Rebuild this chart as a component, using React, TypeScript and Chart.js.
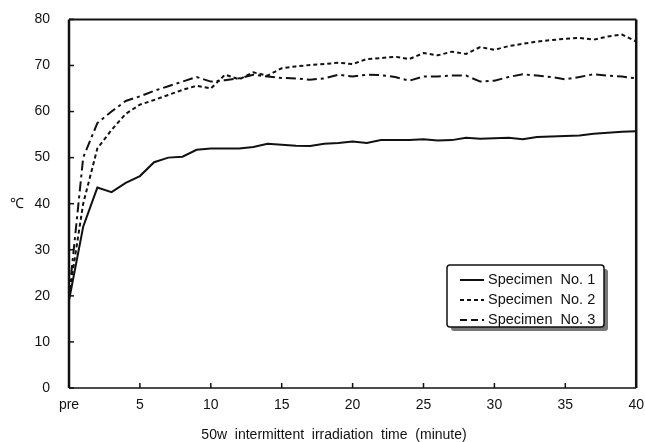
import React, { useEffect, useRef } from "react";
import { Chart, registerables } from "chart.js";

Chart.register(...registerables);

const minutes = [0, 1, 2, 3, 4, 5, 6, 7, 8, 9, 10, 11, 12, 13, 14, 15, 16, 17, 18, 19, 20, 21, 22, 23, 24, 25, 26, 27, 28, 29, 30, 31, 32, 33, 34, 35, 36, 37, 38, 39, 40];

const specimen1 = [19, 35, 43.5, 42.5, 44.5, 46, 49, 50, 50.2, 51.7, 52, 52, 52, 52.3, 53, 52.8, 52.6, 52.5, 53, 53.2, 53.5, 53.2, 53.8, 53.8, 53.8, 54, 53.7, 53.8, 54.3, 54.1, 54.2, 54.3, 54, 54.5, 54.6, 54.7, 54.8, 55.2, 55.4, 55.6, 55.7];

const specimen2 = [20, 40, 52, 56, 59.5, 61.5, 62.5, 63.6, 64.7, 65.6, 65, 68, 67, 68.5, 67.8, 69.4, 69.8, 70.1, 70.3, 70.6, 70.3, 71.4, 71.6, 71.9, 71.4, 72.7, 72.2, 73, 72.5, 74, 73.4, 74.2, 74.7, 75.2, 75.5, 75.8, 76, 75.6, 76.3, 76.7, 75.2];

const specimen3 = [20, 50, 57.5, 60, 62.3, 63.3, 64.5, 65.5, 66.5, 67.5, 66.5, 66.8, 67.2, 68, 67.6, 67.3, 67.2, 66.9, 67.2, 68, 67.6, 68, 67.9, 67.5, 66.7, 67.6, 67.6, 67.8, 67.8, 66.5, 66.7, 67.5, 68.1, 67.8, 67.5, 67, 67.5, 68.1, 67.8, 67.6, 67.2];

const seriesNames = ["Specimen  No. 1", "Specimen  No. 2", "Specimen  No. 3"];
const xTitle = "50w  intermittent  irradiation  time  (minute)";
const yTitle = "℃";

const INK = "#111";
const FONT = "'Liberation Sans', Arial, sans-serif";
const dashes = [[], [4, 3], [10, 4, 3, 4]];
const legendDashes = [[], [4, 3], [7, 4]];

const decorPlugin = {
  id: "decor",
  afterDraw(chart: any) {
    const { ctx, chartArea } = chart;
    const { left, right, top, bottom } = chartArea;
    const xs = chart.scales.x;
    const ys = chart.scales.y;
    ctx.save();
    ctx.strokeStyle = INK;
    ctx.setLineDash([]);
    // frame
    ctx.lineWidth = 2.5;
    ctx.beginPath();
    ctx.moveTo(left, bottom);
    ctx.lineTo(left, top);
    ctx.stroke();
    ctx.beginPath();
    ctx.moveTo(right, top);
    ctx.lineTo(right, bottom);
    ctx.stroke();
    ctx.lineWidth = 2;
    ctx.beginPath();
    ctx.moveTo(left, top);
    ctx.lineTo(right, top);
    ctx.stroke();
    ctx.lineWidth = 1.5;
    ctx.beginPath();
    ctx.moveTo(left, bottom);
    ctx.lineTo(right, bottom);
    ctx.stroke();
    // inward ticks
    ctx.lineWidth = 1.5;
    ys.ticks.forEach((t: any) => {
      const y = ys.getPixelForValue(t.value);
      ctx.beginPath();
      ctx.moveTo(left, y);
      ctx.lineTo(left + 5, y);
      ctx.stroke();
    });
    xs.ticks.forEach((t: any) => {
      const x = xs.getPixelForValue(t.value);
      ctx.beginPath();
      ctx.moveTo(x, bottom);
      ctx.lineTo(x, bottom - 5);
      ctx.stroke();
    });
    // y title
    ctx.fillStyle = INK;
    ctx.font = `14px ${FONT}`;
    ctx.textAlign = "center";
    ctx.textBaseline = "middle";
    ctx.fillText(yTitle, 17, ys.getPixelForValue(40));
    // x title
    ctx.fillText(xTitle, 334, 435);
    // legend
    const bx = 447, by = 265, bw = 157, bh = 62;
    ctx.fillStyle = "#777";
    ctx.beginPath();
    ctx.roundRect(bx + 4, by + 4, bw, bh, 3);
    ctx.fill();
    ctx.fillStyle = "#fff";
    ctx.beginPath();
    ctx.roundRect(bx, by, bw, bh, 3);
    ctx.fill();
    ctx.lineWidth = 1.5;
    ctx.stroke();
    ctx.font = `14.5px ${FONT}`;
    ctx.textAlign = "left";
    seriesNames.forEach((name, i) => {
      const y = by + 15 + i * 20;
      ctx.setLineDash(legendDashes[i]);
      ctx.lineWidth = 2;
      ctx.beginPath();
      ctx.moveTo(460, y);
      ctx.lineTo(484, y);
      ctx.stroke();
      ctx.setLineDash([]);
      ctx.fillStyle = INK;
      ctx.fillText(name, 488, y);
    });
    ctx.restore();
  },
};

export default function App() {
  const ref = useRef<HTMLCanvasElement | null>(null);
  useEffect(() => {
    if (!ref.current) return;
    const mk = (label: string, data: number[], i: number) => ({
      label,
      data: minutes.map((m, k) => ({ x: m, y: data[k] })),
      borderColor: INK,
      backgroundColor: INK,
      borderWidth: 2,
      borderDash: dashes[i],
      pointRadius: 0,
      tension: 0,
      fill: false,
    });
    const chart = new Chart(ref.current, {
      type: "line",
      data: {
        datasets: [
          mk(seriesNames[0], specimen1, 0),
          mk(seriesNames[1], specimen2, 1),
          mk(seriesNames[2], specimen3, 2),
        ],
      },
      options: {
        animation: false,
        responsive: true,
        maintainAspectRatio: false,
        layout: { padding: { top: 16, right: 6, left: 0, bottom: 0 } },
        plugins: { legend: { display: false }, tooltip: { enabled: false } },
        scales: {
          x: {
            type: "linear",
            min: 0,
            max: 40,
            grid: { display: false },
            border: { display: false },
            ticks: {
              stepSize: 5,
              autoSkip: false,
              maxRotation: 0,
              padding: 1,
              color: INK,
              font: { size: 14, family: FONT },
              callback: (v: any) => (v === 0 ? "pre" : String(v)),
            },
            afterFit: (s: any) => {
              s.height = 54;
            },
          },
          y: {
            min: 0,
            max: 80,
            grid: { display: false },
            border: { display: false },
            ticks: {
              stepSize: 10,
              padding: 11,
              color: INK,
              font: { size: 14, family: FONT },
            },
            afterFit: (s: any) => {
              s.width = 69;
            },
          },
        },
      },
      plugins: [decorPlugin],
    });
    return () => chart.destroy();
  }, []);
  return (
    <div style={{ position: "fixed", left: 0, top: 0, width: 645, height: 442, background: "#fff" }}>
      <canvas ref={ref} />
    </div>
  );
}
